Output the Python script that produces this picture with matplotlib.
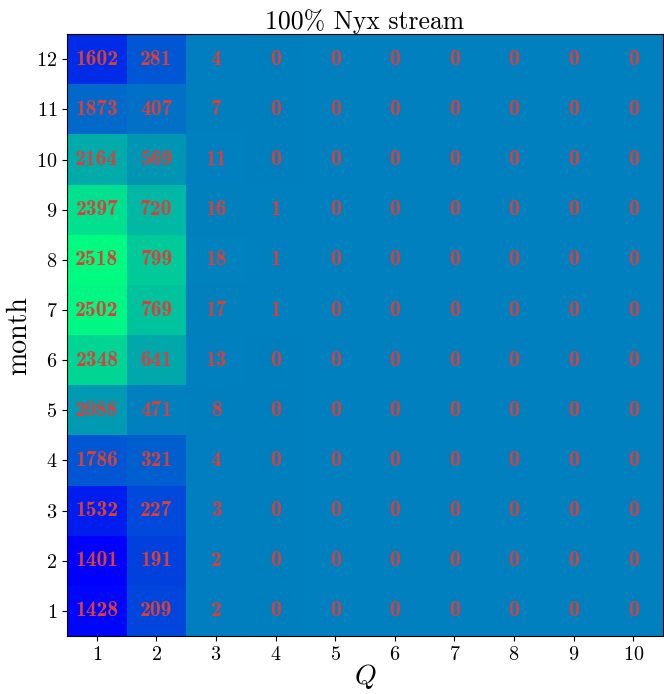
import numpy as np
import matplotlib
matplotlib.use("Agg")
import matplotlib.pyplot as plt

plt.rcParams['font.family'] = 'cmr10'
plt.rcParams['mathtext.fontset'] = 'cm'
plt.rcParams['axes.formatter.use_mathtext'] = True

months = list(range(1, 13))
q_vals = list(range(1, 11))

# counts per month (rows) for Q = 1..10 (columns)
q1 = [1428, 1401, 1532, 1786, 2088, 2348, 2502, 2518, 2397, 2164, 1873, 1602]
q2 = [209, 191, 227, 321, 471, 641, 769, 799, 720, 569, 407, 281]
q3 = [2, 2, 3, 4, 8, 13, 17, 18, 16, 11, 7, 4]
q4 = [0, 0, 0, 0, 0, 0, 1, 1, 1, 0, 0, 0]
q5 = [0] * 12
q6 = [0] * 12
q7 = [0] * 12
q8 = [0] * 12
q9 = [0] * 12
q10 = [0] * 12

counts = np.array([q1, q2, q3, q4, q5, q6, q7, q8, q9, q10]).T

# colour by deviation from each column's mean
anom = counts - counts.mean(axis=0)
lim = np.abs(anom).max()

fig = plt.figure(figsize=(6.64, 6.94), dpi=100)
ax = fig.add_axes([0.101, 0.0836, 0.8975, 0.867])
ax.imshow(anom, cmap='winter', vmin=-lim, vmax=lim, origin='lower',
          extent=(0.5, 10.5, 0.5, 12.5), aspect='auto', interpolation='nearest')

for i, m in enumerate(months):
    for j, q in enumerate(q_vals):
        ax.text(q, m, str(counts[i, j]), ha='center', va='center',
                color='#d9403a', fontsize=15.5, fontfamily='cmb10')

ax.set_xticks(q_vals)
ax.set_yticks(months)
ax.tick_params(labelsize=14.5)
ax.set_xlabel(r'$Q$', fontsize=20, labelpad=-1)
ax.set_ylabel('month', fontsize=20, labelpad=3)
ax.set_title('100% Nyx stream', fontsize=18.5, pad=4)

fig.savefig('out.png', dpi=100)
